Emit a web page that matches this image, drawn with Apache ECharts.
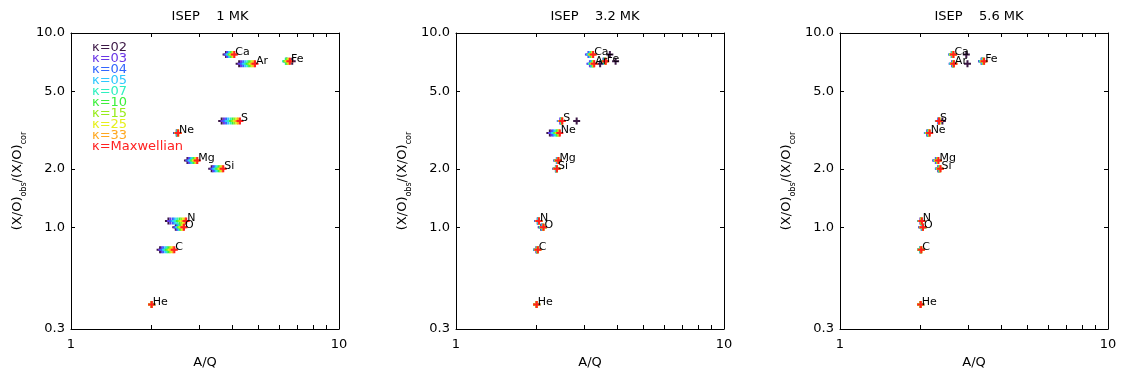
<!DOCTYPE html>
<html>
<head>
<meta charset="utf-8">
<script src="https://cdn.jsdelivr.net/npm/echarts@6/dist/echarts.min.js"></script>
<style>
  html, body { margin: 0; padding: 0; background: #fff; }
  #chart { width: 1121px; height: 374px; }
</style>
</head>
<body>
<div id="chart"></div>
<script>
// Kappa distributions (one colour each) and ion species
const kappaNames = ['κ=02', 'κ=03', 'κ=04', 'κ=05', 'κ=07', 'κ=10', 'κ=15', 'κ=25', 'κ=33', 'κ=Maxwellian'];
const kappaColors = ['#3c1846', '#6a36e6', '#3366ff', '#2ec8ff', '#2ef0c0', '#3cf03c', '#98ec1c', '#e6f01c', '#ffa820', '#ff2020'];
const elements = ['He', 'C', 'N', 'O', 'Ne', 'Mg', 'Si', 'S', 'Ar', 'Ca', 'Fe'];

// (X/O)obs / (X/O)cor for each element
const abundanceRatio = [0.401, 0.766, 1.077, 1.00, 3.06, 2.21, 2.00, 3.53, 6.94, 7.75, 7.16];

// Panel titles
const panelTitles = ['ISEP    1 MK', 'ISEP    3.2 MK', 'ISEP    5.6 MK'];

// Mean A/Q per element (rows, same order as elements) and kappa (columns, same order as kappaNames)
const aq1MK = [
  [2.00, 2.00, 2.00, 2.00, 2.00, 2.00, 2.00, 2.00, 2.00, 2.00],
  [2.15, 2.18, 2.21, 2.25, 2.28, 2.31, 2.34, 2.37, 2.40, 2.43],
  [2.31, 2.35, 2.40, 2.44, 2.49, 2.54, 2.58, 2.62, 2.66, 2.69],
  [2.46, 2.48, 2.50, 2.52, 2.54, 2.56, 2.58, 2.60, 2.62, 2.64],
  [2.48, 2.49, 2.49, 2.50, 2.50, 2.50, 2.51, 2.51, 2.51, 2.51],
  [2.72, 2.75, 2.78, 2.81, 2.84, 2.87, 2.90, 2.92, 2.94, 2.96],
  [3.35, 3.39, 3.43, 3.47, 3.52, 3.56, 3.60, 3.64, 3.67, 3.70],
  [3.65, 3.72, 3.79, 3.86, 3.94, 4.01, 4.08, 4.15, 4.20, 4.27],
  [4.24, 4.31, 4.39, 4.47, 4.55, 4.62, 4.69, 4.75, 4.80, 4.86],
  [3.79, 3.82, 3.86, 3.89, 3.93, 3.96, 3.99, 4.02, 4.05, 4.07],
  [6.69, 6.40, 6.36, 6.34, 6.33, 6.36, 6.41, 6.47, 6.52, 6.56]
];
const aq3MK = [
  [2.00, 2.00, 2.00, 2.00, 2.00, 2.00, 2.00, 2.00, 2.00, 2.00],
  [2.00, 2.00, 2.00, 2.01, 2.01, 2.01, 2.02, 2.02, 2.02, 2.02],
  [2.02, 2.02, 2.03, 2.03, 2.03, 2.04, 2.04, 2.04, 2.04, 2.04],
  [2.08, 2.09, 2.10, 2.10, 2.11, 2.11, 2.12, 2.12, 2.12, 2.12],
  [2.24, 2.27, 2.30, 2.33, 2.36, 2.38, 2.40, 2.42, 2.43, 2.44],
  [2.38, 2.38, 2.39, 2.39, 2.40, 2.40, 2.40, 2.41, 2.41, 2.41],
  [2.36, 2.36, 2.37, 2.37, 2.37, 2.38, 2.38, 2.38, 2.38, 2.38],
  [2.82, 2.45, 2.46, 2.47, 2.47, 2.48, 2.48, 2.49, 2.49, 2.49],
  [3.45, 3.16, 3.18, 3.20, 3.22, 3.23, 3.25, 3.26, 3.27, 3.28],
  [3.75, 3.12, 3.14, 3.16, 3.18, 3.20, 3.21, 3.22, 3.24, 3.25],
  [3.94, 3.55, 3.56, 3.57, 3.58, 3.59, 3.60, 3.61, 3.61, 3.62]
];
const aq5MK = [
  [2.00, 2.00, 2.00, 2.00, 2.00, 2.00, 2.00, 2.00, 2.00, 2.00],
  [2.00, 2.00, 2.00, 2.00, 2.00, 2.00, 2.01, 2.01, 2.01, 2.01],
  [2.00, 2.00, 2.01, 2.01, 2.01, 2.01, 2.01, 2.02, 2.02, 2.02],
  [2.02, 2.02, 2.03, 2.03, 2.03, 2.04, 2.04, 2.04, 2.04, 2.04],
  [2.12, 2.12, 2.13, 2.13, 2.14, 2.14, 2.15, 2.15, 2.16, 2.16],
  [2.28, 2.28, 2.29, 2.30, 2.30, 2.31, 2.31, 2.32, 2.32, 2.33],
  [2.33, 2.33, 2.34, 2.34, 2.35, 2.35, 2.36, 2.36, 2.37, 2.37],
  [2.41, 2.33, 2.33, 2.34, 2.34, 2.34, 2.35, 2.35, 2.35, 2.34],
  [2.99, 2.62, 2.63, 2.64, 2.64, 2.65, 2.65, 2.66, 2.66, 2.66],
  [2.96, 2.61, 2.62, 2.62, 2.63, 2.63, 2.64, 2.64, 2.65, 2.65],
  [3.38, 3.38, 3.39, 3.40, 3.41, 3.42, 3.43, 3.44, 3.44, 3.45]
];
const panelData = [aq1MK, aq3MK, aq5MK];

// Axis ticks and labels
const yLabelValues = [0.3, 1, 2, 5, 10];
const xLabelValues = [1, 10];
const xTickValues = [2, 3, 4, 5, 6, 7, 8, 9];

const FONT = 'DejaVu Sans';
const plusSymbol = 'path://M-1,-3.5H1V-1H3.5V1H1V3.5H-1V1H-3.5V-1H-1Z';
const gridLefts = [71, 456, 840];
const gridTop = 33, gridW = 268, gridH = 298;

const chart = echarts.init(document.getElementById('chart'), null, { renderer: 'canvas' });

const grids = [], xAxes = [], yAxes = [], series = [], titles = [];
const axisLine = { show: true, onZero: false, lineStyle: { color: '#000', width: 1 } };

gridLefts.forEach((left, p) => {
  grids.push({ left: left, top: gridTop, width: gridW, height: gridH, show: false });
  titles.push({
    text: panelTitles[p], left: left + gridW / 2, top: 5, textAlign: 'center',
    textStyle: { fontFamily: FONT, fontSize: 13, fontWeight: 'normal', color: '#000' }
  });
  // bottom and top x axes
  ['bottom', 'top'].forEach((pos, j) => {
    xAxes.push({
      type: 'log', logBase: 10, min: 1, max: 10, gridIndex: p, position: pos,
      name: j === 0 ? 'A/Q' : '', nameLocation: 'middle', nameGap: 27,
      nameTextStyle: { fontFamily: FONT, fontSize: 13, color: '#000' },
      axisLine: axisLine,
      axisTick: { show: true, inside: true, length: 4, customValues: xTickValues, lineStyle: { color: '#000' } },
      minorTick: { show: false },
      axisLabel: {
        show: j === 0, customValues: xLabelValues, margin: 9,
        fontFamily: FONT, fontSize: 13, color: '#000',
        formatter: v => String(Math.round(v))
      },
      splitLine: { show: false }
    });
  });
  // left and right y axes
  ['left', 'right'].forEach((pos, j) => {
    yAxes.push({
      type: 'log', logBase: 10, min: 0.3, max: 10, gridIndex: p, position: pos,
      name: j === 0 ? '{a|(X/O)}{s|obs}{a|/(X/O)}{s|cor}' : '',
      nameLocation: 'middle', nameGap: 43, nameRotate: 90,
      nameTextStyle: {
        fontFamily: FONT, color: '#000',
        rich: {
          a: { fontFamily: FONT, fontSize: 13, lineHeight: 20, color: '#000' },
          s: { fontFamily: FONT, fontSize: 8, lineHeight: 8, verticalAlign: 'bottom', color: '#000' }
        }
      },
      axisLine: axisLine,
      axisTick: { show: true, inside: true, length: 4, customValues: yLabelValues, lineStyle: { color: '#000' } },
      minorTick: { show: false },
      axisLabel: {
        show: j === 0, customValues: yLabelValues, margin: 6,
        fontFamily: FONT, fontSize: 13, color: '#000',
        formatter: v => v.toFixed(1)
      },
      splitLine: { show: false }
    });
  });

  const rows = panelData[p];
  kappaNames.forEach((kn, k) => {
    const isMax = k === kappaNames.length - 1;
    series.push({
      type: 'scatter', name: kn,
      xAxisIndex: p * 2, yAxisIndex: p * 2,
      symbol: plusSymbol, symbolSize: 7,
      itemStyle: { color: kappaColors[k], opacity: 1 },
      z: 2 + k,
      data: elements.map((el, e) => ({ value: [rows[e][k], abundanceRatio[e]], name: el })),
      label: isMax ? {
        show: true, position: 'inside', align: 'left', verticalAlign: 'bottom',
        offset: [1, 3], formatter: '{b}',
        fontFamily: FONT, fontSize: 11, color: '#000'
      } : { show: false },
      emphasis: { disabled: true },
      silent: true
    });
  });
});

chart.setOption({
  animation: false,
  backgroundColor: '#fff',
  title: titles,
  grid: grids,
  xAxis: xAxes,
  yAxis: yAxes,
  legend: {
    orient: 'vertical', left: 87, top: 41, padding: 0,
    itemWidth: 0, itemHeight: 11, itemGap: -2,
    selectedMode: false,
    data: kappaNames.map((n, i) => ({
      name: n, icon: 'none',
      textStyle: { color: kappaColors[i], fontFamily: FONT, fontSize: 13, lineHeight: 11 }
    }))
  },
  series: series
});
</script>
</body>
</html>
